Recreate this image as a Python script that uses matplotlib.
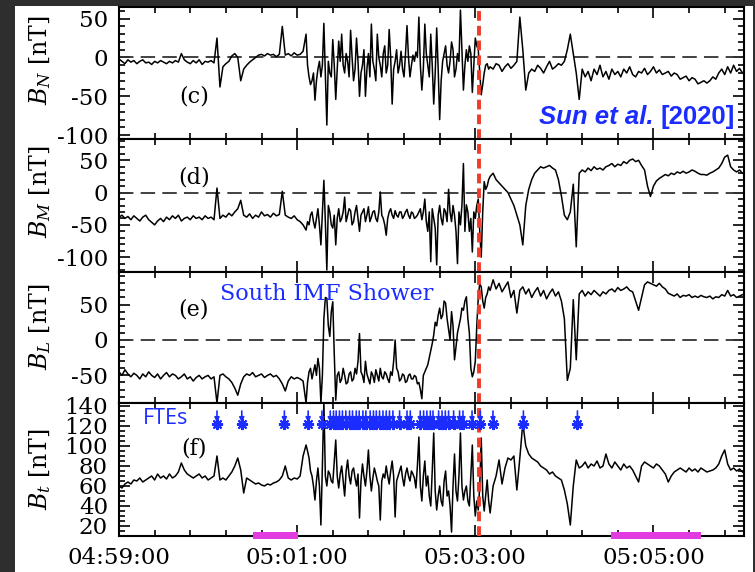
import numpy as np
import matplotlib
matplotlib.use('Agg')
import matplotlib.pyplot as plt
from matplotlib.ticker import FixedLocator, MultipleLocator
from matplotlib.patches import Rectangle

plt.rcParams['font.family'] = 'DejaVu Serif'
plt.rcParams['mathtext.fontset'] = 'dejavuserif'
plt.rcParams['axes.unicode_minus'] = False

# ---------------- data (time in s after 04:59:00) ----------------
# 2 s samples, 1 s samples through the turbulent interval, 2 s after
time_s = np.concatenate([np.arange(0, 126, 2), np.arange(126, 251, 1),
                         np.arange(252, 421, 2)])

bn = [-2, -5, -8, -3, -6, -4, -8, -5, -3, -7,
      -6, -9, -5, -7, -4, -6, -8, -5, -7, -4,
      -6, 5, -3, -6, -8, -4, -7, -3, -9, -5,
      -6, -4, -7, 25, -38, -12, -8, -5, 2, 5,
      0, -30, -15, -10, -6, -3, 0, 3, 4, 2,
      5, 3, 4, 1, 4, 40, 3, 5, 2, 6,
      3, 4, 8,
      # 1 s, 126-250
      30, -10, -25, -35, -30, -20, -55, -30, -15, -5,
      -25, -10, 44, -20, -87, -5, -20, -25, 23, -10,
      -54, -15, 21, -5, 30, -10, -20, 5, -5, -25,
      35, 0, -30, -15, 25, -5, -50, -20, -10, 10,
      -50, -15, 5, -25, 43, -5, -15, -30, 30, 0,
      -10, -25, 5, 15, -20, -10, 36, 0, -60, -15,
      -5, 10, -20, -10, 8, -15, -25, 5, 41, 0,
      -25, -10, 3, -5, 7, 0, 52, -10, -42, -15,
      43, 5, -10, -25, 30, -10, -60, -20, 38, -15,
      -80, -30, -5, 5, 15, -10, -20, -5, 20, 10,
      -25, -15, 5, -5, 61, 10, -42, -10, 10, -5,
      15, 5, -45, -10, 25, 15, 10, -20, -48, -35,
      -20, -10, -8, -15, -12,
      # 2 s, 252-420
      -15, -8, -10, -18,
      -12, -8, -14, -10, -5, 52, 10, -42, -20, -15,
      -18, -10, -14, -20, -12, -5, -15, -12, -8, -10,
      -5, 10, 30, 5, -20, -54, -15, -25, -18, -30,
      -15, -22, -10, -25, -18, -28, -15, -22, -18, -25,
      -15, -20, -12, -22, -25, -18, -20, -14, -22, -18,
      -12, -20, -16, -22, -20, -18, -24, -20, -22, -28,
      -26, -24, -30, -26, -28, -34, -32, -30, -33, -30,
      -25, -28, -20, -15, -22, -12, -20, -10, -18, -14,
      -20]

bm = [-38, -35, -40, -37, -42, -36, -40, -44, -38, -35,
      -42, -46, -50, -44, -40, -45, -38, -42, -36, -40,
      -35, -44, -40, -38, -42, -36, -40, -38, -42, -36,
      -40, -38, -42, 7, -40, -35, -38, -32, -36, -30,
      -25, -12, -35, -38, -33, -40, -35, -38, -30, -36,
      -34, -38, -32, -36, -34, 2, -35, -38, -40, -36,
      -42, -45, -50,
      # 1 s, 126-250
      -58, -45, -50, -35, -30, -45, -55, -40, -25, -50,
      -81, -30, 19, -45, -120, -20, -30, -50, -55, -35,
      -81, -40, -25, -45, -40, -30, -7, -45, -35, -25,
      -28, -50, -45, -30, -20, -40, -60, -35, -30, -25,
      -45, -35, -22, -45, -38, -30, -28, -40, -45, -30,
      1, -35, -40, -50, -66, -40, -30, -25, -35, -40,
      -28, -35, -38, -30, -30, -40, -36, -30, -26, -35,
      -40, -30, -32, -40, -38, -35, -30, -25, -42, -30,
      -10, -45, -60, -30, -107, -25, -40, -55, -112, -35,
      -20, -40, -50, -25, -30, -45, 5, -30, -45, -20,
      -35, -60, -110, -30, -50, -20, 45, -60, -19, -30,
      -60, -40, -92, -30, -40, -20, -10, -60, -100, -30,
      17, 5, 10, 20, 25,
      # 2 s, 252-420
      30, 20, 15, 10,
      5, 0, -10, -20, -35, -50, -81, -20, 5, 20,
      30, 35, 40, 38, 40, 42, 38, 35, 20, -5,
      -35, -42, -30, 13, -84, 30, 35, 32, 38, 34,
      40, 36, 38, 35, 40, 42, 45, 40, 44, 42,
      48, 45, 50, 52, 48, 50, 42, 35, 10, -6,
      10, 18, 22, 25, 28, 26, 30, 28, 32, 30,
      33, 30, 32, 35, 33, 30, 28, 28, 27, 30,
      32, 35, 38, 45, 55, 58, 40, 35, 32, 35,
      30]

bl = [-45, -50, -42, -48, -52, -47, -50, -55, -48, -52,
      -45, -50, -53, -48, -55, -50, -46, -52, -48, -50,
      -55, -52, -48, -55, -52, -58, -53, -50, -55, -52,
      -50, -55, -52, -89, -50, -48, -52, -55, -60, -68,
      -78, -62, -52, -48, -50, -46, -52, -50, -48, -53,
      -50, -48, -52, -50, -55, -62, -72, -58, -52, -55,
      -53, -55, -58,
      # 1 s, 126-250
      -89, -60, -45, -40, -55, -45, -35, -50, -26, -40,
      -89, -50, 30, 60, 59, 20, 5, 40, 54, -20,
      -85, -50, -45, -60, -55, -40, -50, -62, -60, -48,
      -45, -58, -55, -40, -48, -30, 9, -45, -50, -60,
      -30, -48, -55, -62, -45, -50, -60, -42, -50, -58,
      -40, -52, -55, -45, -48, -55, -60, -45, -50, -30,
      0, -40, -45, -58, -55, -48, -50, -60, -58, -50,
      -48, -55, -55, -50, -52, -62, -60, -70, -83, -50,
      -45, -40, -35, -25, -15, -5, 7, 25, 20, 35,
      45, 30, 35, 55, 52, 30, 15, 0, 40, 20,
      -28, -10, 10, 20, 30, 45, 42, 55, 61, 30,
      10, -40, -52, -45, -30, 20, 60, 80, 75, 55,
      45, 60, 65, 75, 70,
      # 2 s, 252-420
      85, 72, 80, 68,
      75, 82, 60, 70, 38, 70, 75, 65, 72, 60,
      68, 74, 62, 70, 58, 66, 72, 62, 68, 55,
      30, -57, -40, 57, -28, 65, 70, 62, 68, 64,
      70, 66, 62, 68, 65, 70, 72, 68, 74, 70,
      72, 75, 70, 68, 55, 42, 60, 78, 82, 80,
      78, 76, 80, 75, 72, 66, 64, 62, 65, 60,
      63, 62, 64, 60, 62, 60, 63, 61, 60, 62,
      58, 61, 60, 64, 62, 70, 62, 64, 60, 62,
      64]

bt = [60, 58, 62, 64, 62, 66, 65, 68, 64, 66,
      68, 70, 66, 72, 68, 70, 67, 72, 68, 70,
      74, 83, 76, 72, 70, 68, 70, 72, 68, 70,
      66, 68, 70, 90, 66, 68, 66, 70, 74, 80,
      88, 76, 53, 68, 66, 64, 62, 63, 61, 60,
      62, 61, 63, 64, 66, 70, 80, 68, 66, 68,
      67, 70, 90,
      # 1 s, 126-250
      101, 95, 88, 75, 70, 60, 46, 65, 78, 60,
      21, 80, 145, 70, 60, 75, 72, 65, 63, 85,
      106, 70, 58, 72, 80, 65, 50, 75, 86, 70,
      62, 75, 78, 68, 60, 72, 28, 65, 82, 70,
      60, 75, 96, 70, 55, 68, 78, 72, 65, 60,
      26, 65, 72, 68, 80, 70, 62, 75, 85, 70,
      29, 65, 70, 75, 80, 68, 60, 72, 78, 70,
      65, 75, 72, 68, 58, 80, 109, 60, 45, 70,
      85, 60, 70, 50, 40, 75, 113, 55, 36, 50,
      60, 45, 40, 65, 75, 50, 55, 40, 14, 60,
      92, 55, 45, 70, 113, 60, 46, 55, 60, 45,
      40, 70, 101, 50, 30, 45, 36, 60, 108, 50,
      35, 50, 66, 45, 33,
      # 2 s, 252-420
      60, 70, 86, 62,
      78, 88, 86, 90, 56, 88, 123, 100, 92, 88,
      86, 84, 80, 78, 76, 72, 74, 70, 68, 66,
      56, 42, 21, 60, 86, 78, 80, 84, 78, 82,
      80, 85, 78, 80, 92, 82, 78, 84, 80, 76,
      82, 78, 80, 76, 70, 64, 80, 84, 82, 80,
      78, 82, 80, 76, 72, 64, 70, 74, 76, 78,
      76, 74, 78, 75, 77, 74, 78, 76, 74, 75,
      76, 78, 82, 90, 96, 82, 76, 78, 75, 77,
      74]

fte_times = [66, 82.7, 111.4, 127.4, 136.7, 142.3, 144.5, 146.3, 148.5, 150.5,
             152.8, 155.3, 157.3, 159.8, 161.8, 164.3, 166.3, 169.2, 171.4, 173.3,
             175.5, 177.8, 180.0, 182.2, 184.5, 189.0, 194.0, 196.2, 202.9, 205.2,
             207.4, 209.7, 211.5, 215.3, 217.6, 219.8, 222.0, 225.4, 229.4, 231.7,
             237.8, 243.4, 251.9, 272.4, 308.8]
fte_level = 122
fte_top = 135

shade_start = [90.3, 331.7]
shade_end = [120.7, 391.7]

event_time = 242.7

xtick_pos = [0, 120, 240, 360]
xtick_labels = ['04:59:00', '05:01:00', '05:03:00', '05:05:00']

panel_series = [bn, bm, bl, bt]
panel_ylabels = [r'$B_N$ [nT]', r'$B_M$ [nT]', r'$B_L$ [nT]', r'$B_t$ [nT]']
panel_tags = ['(c)', '(d)', '(e)', '(f)']
panel_ylims = [(-105, 65), (-123, 83), (-89, 96), (10, 143)]
panel_yticks = [[-100, -50, 0, 50], [-100, -50, 0, 50], [-50, 0, 50],
                [20, 40, 60, 80, 100, 120, 140]]
panel_yminor = [10, 10, 10, 5]

# ---------------- layout ----------------
W_PX, H_PX = 755, 572
fig = plt.figure(figsize=(W_PX / 100, H_PX / 100), dpi=100)
fig.patch.set_facecolor('#2e2e2e')
fig.add_artist(Rectangle((15 / W_PX, 0), (753 - 15) / W_PX, 1 - 6 / H_PX,
                         transform=fig.transFigure, facecolor='white',
                         edgecolor='none', zorder=-10))

bounds = [(7, 139), (139, 272), (272, 403), (403, 536)]
left, width = 119 / W_PX, 625 / W_PX
blue = '#1a2cff'

tag_pos = [(0.12, 0.32), (0.12, 0.71), (0.12, 0.71), (0.12, 0.66)]
ylab_y = [0.60, 0.60, 0.58, 0.50]

axes = []
for i, (top, bot) in enumerate(bounds):
    ax = fig.add_axes([left, 1 - bot / H_PX, width, (bot - top) / H_PX])
    axes.append(ax)
    ax.plot(time_s, panel_series[i], color='black', lw=1.1, zorder=3)
    ax.set_xlim(0, 421)
    ax.set_ylim(*panel_ylims[i])
    if i < 3:
        ax.axhline(0, color='#333333', lw=1.3, ls=(0, (8, 4)), zorder=2)
    ax.axvline(event_time, color='#f03a2a', lw=2.8, ls=(0, (2.5, 1.3)), zorder=4)

    ax.xaxis.set_major_locator(FixedLocator(xtick_pos))
    ax.xaxis.set_minor_locator(MultipleLocator(24))
    ax.yaxis.set_major_locator(FixedLocator(panel_yticks[i]))
    ax.yaxis.set_minor_locator(MultipleLocator(panel_yminor[i]))
    ax.tick_params(which='both', direction='in', top=True, right=True,
                   width=1.2, labelsize=16.5, pad=8)
    ax.tick_params(which='major', length=8)
    ax.tick_params(which='minor', length=4.5)
    if i < 3:
        ax.tick_params(labelbottom=False)
    else:
        ax.set_xticklabels(xtick_labels)
    for sp in ax.spines.values():
        sp.set_linewidth(1.5)
    ax.set_ylabel(panel_ylabels[i], fontsize=17)
    ax.yaxis.set_label_coords(-0.106, ylab_y[i])
    ax.text(tag_pos[i][0], tag_pos[i][1], panel_tags[i], transform=ax.transAxes,
            fontsize=16, ha='center', va='center', zorder=6)

# annotations
ax_c, ax_d, ax_e, ax_f = axes
t2020 = ax_c.text(0.9856, 0.167, '[2020]', transform=ax_c.transAxes,
                  fontsize=18.5, fontweight='bold', color=blue,
                  family='Liberation Sans', ha='right', va='center', zorder=6)
ax_c.annotate('Sun et al. ', xy=(0, 0.5), xycoords=t2020, fontsize=18.5,
              fontweight='bold', style='italic', color=blue,
              family='Liberation Sans', ha='right', va='center', zorder=6)

ax_e.text(0.1616, 0.79, 'South IMF Shower', transform=ax_e.transAxes,
          fontsize=16, color=blue, family='DejaVu Serif', ha='left',
          va='baseline', zorder=6)
ax_f.text(0.038, 0.887, 'FTEs', transform=ax_f.transAxes, fontsize=15.5,
          color=blue, family='Open Sans', ha='left', va='center', zorder=6)

for t in fte_times:
    ax_f.annotate('', xy=(t, fte_level + 1.5), xytext=(t, fte_top),
                  arrowprops=dict(arrowstyle='-|>', color=blue, lw=1.2,
                                  mutation_scale=7, shrinkA=0, shrinkB=0),
                  zorder=5)
ax_f.plot(fte_times, [fte_level] * len(fte_times), ls='none',
          marker=(8, 2, 0), markersize=8, mew=1.5, color=blue, zorder=5)

for s, e in zip(shade_start, shade_end):
    ax_f.axvspan(s, e, ymin=-0.025, ymax=0.03, color='#e03ce0', clip_on=False,
                 zorder=5, lw=0)

fig.savefig('out.png', dpi=100, facecolor=fig.get_facecolor())
